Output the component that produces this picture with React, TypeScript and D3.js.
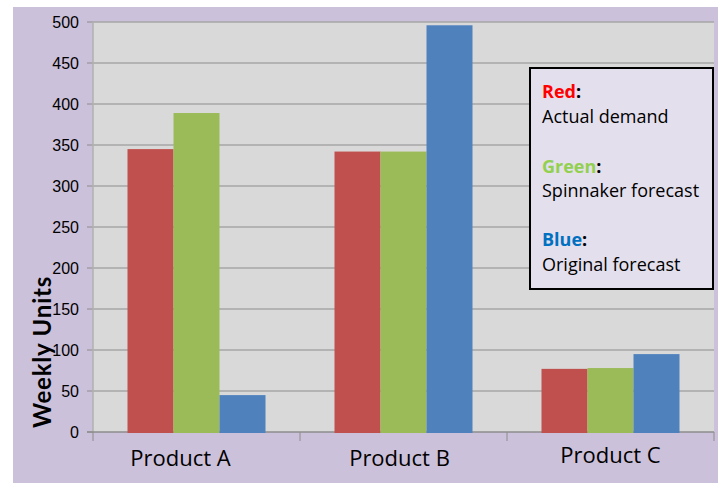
import React from "react";
import * as d3 from "d3";

const categories = ["Product A", "Product B", "Product C"];
const seriesNames = ["Actual demand", "Spinnaker forecast", "Original forecast"];
const actualDemand = [345, 342, 77];
const spinnakerForecast = [389, 342, 78];
const originalForecast = [45, 496, 95];
const yTicks = [0, 50, 100, 150, 200, 250, 300, 350, 400, 450, 500];
const barColors = ["#c0504d", "#9bbb59", "#4f81bd"];
const legendLabels = ["Red", "Green", "Blue"];
const legendColors = ["#ff0000", "#92d050", "#0070c0"];

const W = 718;
const H = 483;
const plot = { left: 93, right: 714, top: 22, bottom: 432 };

export default function App() {
  const series = [actualDemand, spinnakerForecast, originalForecast];
  const x = d3.scaleBand<string>().domain(categories).range([plot.left, plot.right]).paddingInner(0).paddingOuter(0);
  const inner = d3
    .scaleBand<number>()
    .domain(d3.range(series.length))
    .range([0, x.bandwidth()])
    .paddingOuter(0.75)
    .paddingInner(0);
  const y = d3.scaleLinear().domain([0, 500]).range([plot.bottom, plot.top]);

  const labelOffsets = [-16, -4, 0];
  const labelBaselines = [466, 466, 463];
  const tickFont = "'Liberation Sans', Arial, sans-serif";
  const gill = "'Open Sans', Lato, sans-serif";

  const headBaselines = [98, 173, 246];
  const subBaselines = [122.7, 196.7, 270.7];

  return (
    <div style={{ position: "absolute", left: 0, top: 0 }}>
      <svg width={W} height={H} style={{ display: "block" }}>
        <rect x={13} y={7} width={W - 13} height={H - 7} fill="#ccc1da" />
        <rect
          x={plot.left}
          y={plot.top}
          width={plot.right - plot.left}
          height={plot.bottom - plot.top}
          fill="#d9d9d9"
        />
        {yTicks.map((t) => (
          <g key={t}>
            {t > 0 && (
              <line
                x1={plot.left}
                x2={plot.right}
                y1={y(t)}
                y2={y(t)}
                stroke="#a6a6a6"
                strokeWidth={1.5}
              />
            )}
            <line x1={87} x2={plot.left} y1={y(t)} y2={y(t)} stroke="#8c8c8c" strokeWidth={1} />
            <text
              x={79}
              y={y(t)}
              dy="0.36em"
              textAnchor="end"
              fontFamily={tickFont}
              fontSize={16}
              fill="#000"
            >
              {t}
            </text>
          </g>
        ))}
        <line x1={plot.left} x2={plot.left} y1={plot.top} y2={plot.bottom} stroke="#b0b0b0" strokeWidth={1.5} />
        <line x1={87} x2={plot.right} y1={plot.bottom} y2={plot.bottom} stroke="#8c8c8c" strokeWidth={1.5} />
        {[...categories.map((c) => x(c) as number), plot.right].map((tx, i) => (
          <line key={i} x1={tx} x2={tx} y1={plot.bottom} y2={441} stroke="#8c8c8c" strokeWidth={1} />
        ))}
        {categories.map((c, ci) =>
          series.map((s, si) => {
            const bx = (x(c) as number) + (inner(si) as number);
            return (
              <rect
                key={`${ci}-${si}`}
                x={bx}
                y={y(s[ci])}
                width={inner.bandwidth()}
                height={plot.bottom + 1 - y(s[ci])}
                fill={barColors[si]}
              />
            );
          })
        )}
        {categories.map((c, ci) => (
          <text
            key={c}
            x={(x(c) as number) + x.bandwidth() / 2 + labelOffsets[ci]}
            y={labelBaselines[ci]}
            textAnchor="middle"
            fontFamily={gill}
            fontSize={22}
            fill="#000"
          >
            {c}
          </text>
        ))}
        <text
          transform={`translate(51, 352) rotate(-90)`}
          textAnchor="middle"
          fontFamily="Lato, sans-serif"
          fontWeight="bold"
          fontSize={24}
          letterSpacing={0.8}
          fill="#000"
        >
          Weekly Units
        </text>
        <rect x={530} y={68} width={183} height={221} fill="#e4dfec" stroke="#000" strokeWidth={2} />
        {seriesNames.map((name, i) => (
          <g key={i}>
            <text x={542} y={headBaselines[i]} fontFamily={gill} fontSize={18} fontWeight="bold">
              <tspan fill={legendColors[i]}>{legendLabels[i]}</tspan>
              <tspan fill="#000">:</tspan>
            </text>
            <text x={542} y={subBaselines[i]} fontFamily={gill} fontSize={18} fill="#000">
              {name}
            </text>
          </g>
        ))}
      </svg>
    </div>
  );
}
